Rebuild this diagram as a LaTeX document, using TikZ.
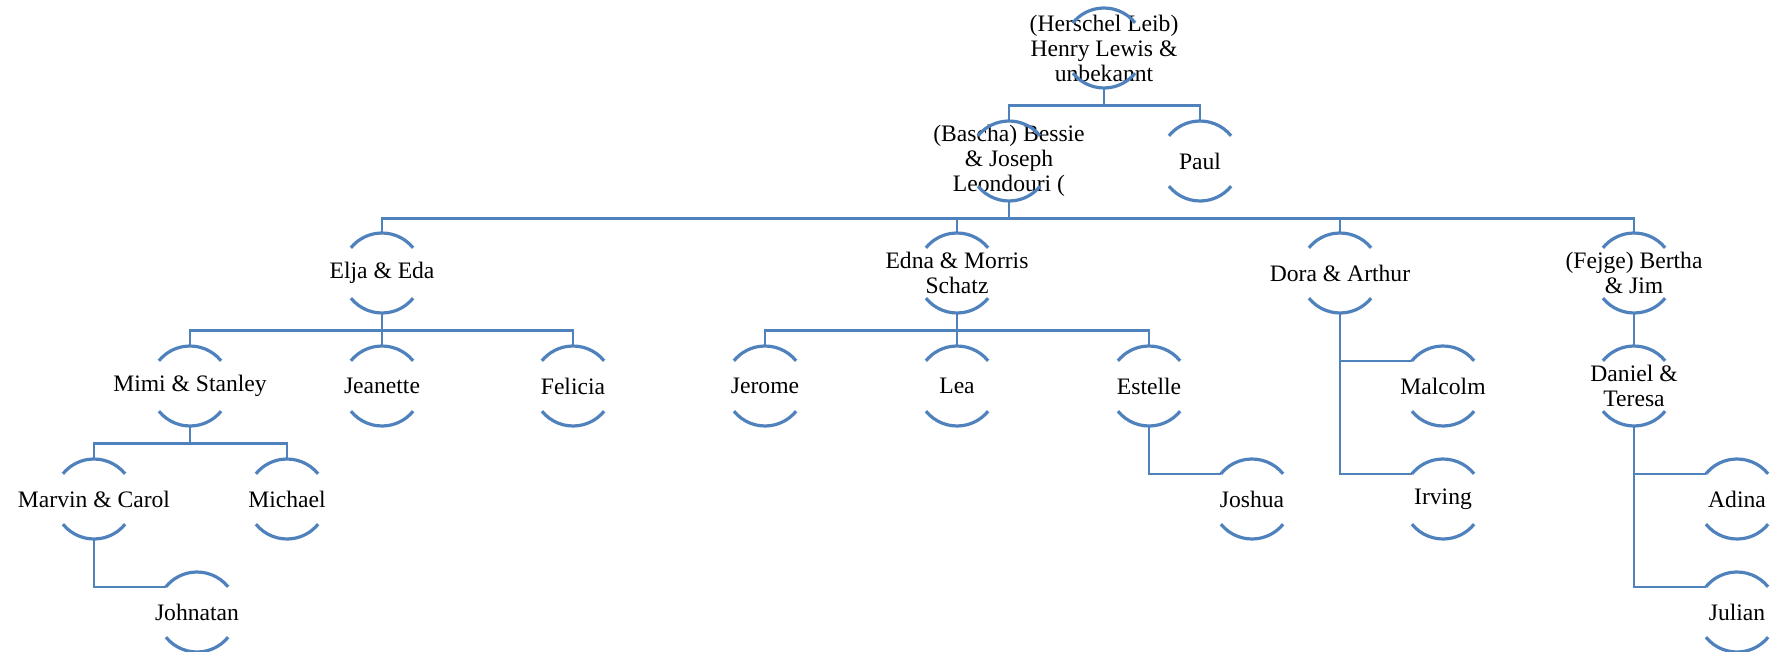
\documentclass[tikz,border=0pt]{standalone}
\usepackage{fontspec}
\setmainfont{Liberation Serif}
\usepackage{tikz, xcolor}

\definecolor{famblue}{RGB}{79,129,189}

\begin{document}
\begin{tikzpicture}[x=.5pt, y=.5pt,
    person/.style={inner sep=0pt, minimum height=40pt, align=center,
      font=\fontsize{11.8}{12.5}\selectfont},
    link/.style={color=famblue, line width=1.2pt},
    ring/.style={color=famblue, line width=1.6pt}]
    \useasboundingbox (0, 0) rectangle (1780, -652);

    \node [person] (herschel) at (1104, -48) {(Herschel Leib)\\Henry Lewis \&\\unbekannt};

    \node [person] (bessie) at (1009, -161) {(Bascha) Bessie\\\& Joseph\\Leondouri (};
    \node [person] (paul) at (1200, -161) {Paul};

    \node [person] (elja) at (382, -273) {Elja \& Eda};
    \node [person] (edna) at (957, -273) {Edna \& Morris\\Schatz};
    \node [person] (dora) at (1340, -273) {Dora \& Arthur};
    \node [person] (bertha) at (1634, -273) {(Fejge) Bertha\\\& Jim};

    \node [person] (mimi) at (190, -386) {Mimi \& Stanley};
    \node [person] (jeanette) at (382, -386) {Jeanette};
    \node [person] (felicia) at (573, -386) {Felicia};
    \node [person] (jerome) at (765, -386) {Jerome};
    \node [person] (lea) at (957, -386) {Lea};
    \node [person] (estelle) at (1149, -386) {Estelle};
    \node [person] (malcolm) at (1443, -386) {Malcolm};
    \node [person] (daniel) at (1634, -386) {Daniel \&\\Teresa};

    \node [person] (marvin) at (94, -499) {Marvin \& Carol};
    \node [person] (michael) at (287, -499) {Michael};
    \node [person] (joshua) at (1252, -499) {Joshua};
    \node [person] (irving) at (1443, -499) {Irving};
    \node [person] (adina) at (1737, -499) {Adina};

    \node [person] (johnatan) at (197, -612) {Johnatan};
    \node [person] (julian) at (1737, -612) {Julian};

    % arcs over and under each name
    \foreach \n in {herschel, bessie, paul, elja, edna, dora, bertha, mimi,
        jeanette, felicia, jerome, lea, estelle, malcolm, daniel, marvin,
        michael, joshua, irving, adina, johnatan, julian} {
      \draw [ring] (\n.center) ++(39:20pt) arc [start angle=39, end angle=141, radius=20pt];
      \draw [ring] (\n.center) ++(219:20pt) arc [start angle=219, end angle=321, radius=20pt];
    }

    \foreach \up/\kid in {herschel/bessie, herschel/paul, bessie/elja, bessie/edna,
        bessie/dora, bessie/bertha, elja/mimi, elja/jeanette, elja/felicia,
        edna/jerome, edna/lea, edna/estelle, bertha/daniel, mimi/marvin, mimi/michael}
      \draw [link] (\up.south) -- ++(0, -17) -| (\kid.north);

    % side branches
    \foreach \up/\kid in {marvin/johnatan, estelle/joshua, dora/malcolm, dora/irving,
        daniel/adina, daniel/julian}
      \draw [link] (\up.south) |- ([shift={(141:20pt)}]\kid.center);
\end{tikzpicture}
\end{document}
